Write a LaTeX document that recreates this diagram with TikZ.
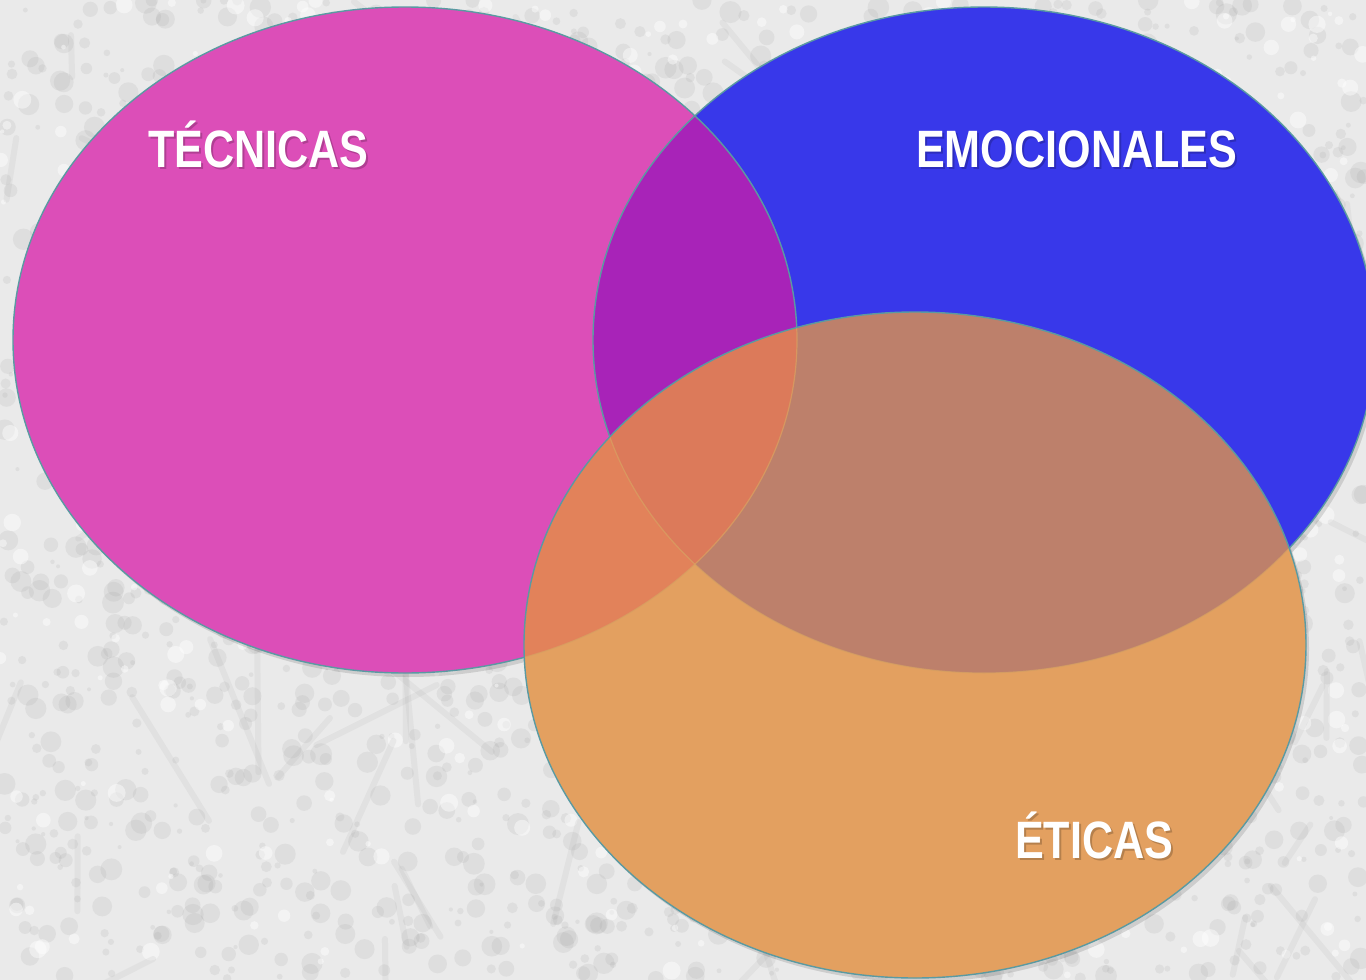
\documentclass[tikz,border=0pt]{standalone}
\usepackage{fontspec}
\setmainfont{Liberation Sans}
\newfontfamily\labelfont[FakeStretch=0.82]{Liberation Sans Bold}
\definecolor{bgbase}{HTML}{EAEAEA}
\definecolor{bgspot}{HTML}{A0A0A0}
\definecolor{pinkc}{HTML}{DC4EB8}
\definecolor{bluec}{HTML}{3838EA}
\definecolor{purplec}{HTML}{A823B8}
\definecolor{orangec}{HTML}{E3A060}
\definecolor{pinkorange}{HTML}{E2825A}
\definecolor{tripc}{HTML}{DC7A5A}
\definecolor{blueorange}{HTML}{BD806B}
\definecolor{edgec}{HTML}{5A9AA2}
\definecolor{inneredge}{HTML}{D8A262}
\tikzset{
  setlabel/.style={text=white, anchor=base west, inner sep=0pt,
    font=\labelfont\fontsize{52.6}{60}\selectfont},
  setshadow/.style={text=black, opacity=0.2, anchor=base west, inner sep=0pt,
    font=\labelfont\fontsize{52.6}{60}\selectfont},
  outline/.style={draw=edgec, line width=1.4pt},
}
\begin{document}
\begin{tikzpicture}[x=1pt,y=-1pt]
\useasboundingbox (0,0) rectangle (1366,980);
\clip (0,0) rectangle (1366,980);
% background
\fill[bgbase] (0,0) rectangle (1366,980);
\pgfmathsetseed{4242}
\foreach \i in {1,...,2200}{
  \pgfmathsetmacro\xx{rnd*1366}
  \pgfmathsetmacro\yy{rnd*980}
  \pgfmathsetmacro\rr{2+rnd*9}
  \fill[bgspot, opacity=0.16] (\xx,\yy) circle (\rr);
}
\foreach \i in {1,...,500}{
  \pgfmathsetmacro\xx{rnd*1366}
  \pgfmathsetmacro\yy{rnd*980}
  \pgfmathsetmacro\rr{2+rnd*7}
  \fill[white, opacity=0.45] (\xx,\yy) circle (\rr);
}
\foreach \i in {1,...,90}{
  \pgfmathsetmacro\xx{rnd*1366}
  \pgfmathsetmacro\yy{rnd*980}
  \pgfmathsetmacro\aa{20+rnd*140}
  \pgfmathsetmacro\ll{40+rnd*120}
  \draw[bgspot, opacity=0.12, line width=6pt, line cap=round]
    (\xx,\yy) -- ++(\aa:\ll);
}
% shadows
\fill[black, opacity=0.12] (408,344) ellipse [x radius=392, y radius=333];
\fill[black, opacity=0.12] (987,344) ellipse [x radius=391, y radius=333];
\fill[black, opacity=0.12] (918,649) ellipse [x radius=391, y radius=333];
% pink and blue
\fill[pinkc] (405,340) ellipse [x radius=392, y radius=333];
\fill[bluec] (984,340) ellipse [x radius=391, y radius=333];
\begin{scope}
  \clip (405,340) ellipse [x radius=392, y radius=333];
  \fill[purplec] (984,340) ellipse [x radius=391, y radius=333];
\end{scope}
\draw[outline] (405,340) ellipse [x radius=392, y radius=333];
\draw[outline] (984,340) ellipse [x radius=391, y radius=333];
% orange and its overlaps
\fill[orangec] (915,645) ellipse [x radius=391, y radius=333];
\begin{scope}
  \clip (915,645) ellipse [x radius=391, y radius=333];
  \fill[blueorange] (984,340) ellipse [x radius=391, y radius=333];
  \fill[pinkorange] (405,340) ellipse [x radius=392, y radius=333];
  \begin{scope}
    \clip (405,340) ellipse [x radius=392, y radius=333];
    \fill[tripc] (984,340) ellipse [x radius=391, y radius=333];
  \end{scope}
  \draw[inneredge, opacity=0.7, line width=1.2pt] (405,340) ellipse [x radius=392, y radius=333];
  \draw[inneredge, opacity=0.7, line width=1.2pt] (984,340) ellipse [x radius=391, y radius=333];
\end{scope}
\draw[outline] (915,645) ellipse [x radius=391, y radius=333];
% labels
\node[setshadow] (tecs) at (150,169) {TÉCNICAS};
\node[setlabel] (tec) at (148,167) {TÉCNICAS};
\node[setshadow] (emos) at (918,169) {EMOCIONALES};
\node[setlabel] (emo) at (916,167) {EMOCIONALES};
\node[setshadow] (etis) at (1017,860) {ÉTICAS};
\node[setlabel] (eti) at (1015,858) {ÉTICAS};
\end{tikzpicture}
\end{document}
